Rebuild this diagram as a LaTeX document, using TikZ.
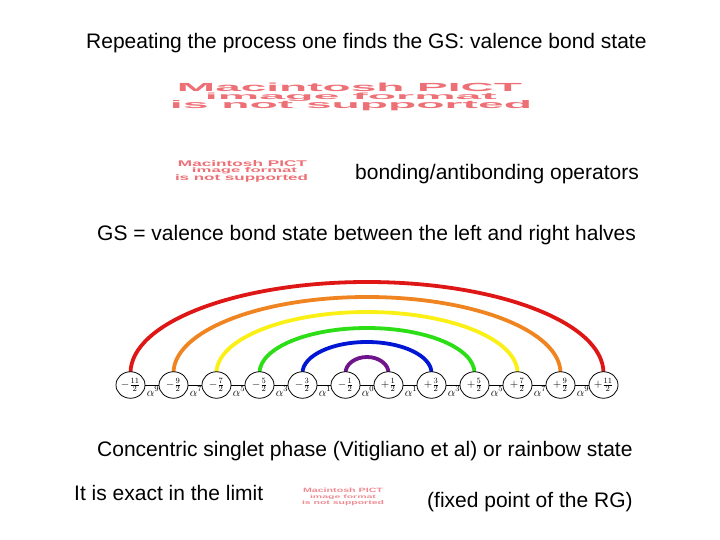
\documentclass[tikz,border=0pt]{standalone}
\usepackage{fontspec}
\setmainfont{Liberation Sans}
\usepackage{graphicx}
\usetikzlibrary{shapes.geometric}
\definecolor{pict}{RGB}{236,112,118}
\definecolor{pictlight}{RGB}{238,140,146}
\definecolor{rbred}{RGB}{222,22,22}
\definecolor{rborange}{RGB}{240,132,32}
\definecolor{rbyellow}{RGB}{250,240,22}
\definecolor{rbgreen}{RGB}{44,222,22}
\definecolor{rbblue}{RGB}{0,22,212}
\definecolor{rbpurple}{RGB}{112,20,140}
\tikzset{
  txt/.style={inner sep=0pt, font=\fontsize{21}{24}\selectfont, anchor=base west},
  pictline/.style={inner sep=0pt, text=pict, font=\bfseries, anchor=base},
  site/.style={ellipse, draw=black, line width=0.8pt, fill=white, minimum width=29pt, minimum height=26.5pt, inner sep=0pt, font=\fontsize{11}{12}\selectfont},
  bond/.style={draw=black, line width=0.8pt},
  coup/.style={inner sep=0pt, font=\fontsize{11.5}{12}\selectfont, anchor=base},
  rainbow/.style={line width=3.8pt}
}
\newcommand{\pictfit}[3]{\resizebox{#1pt}{#2pt}{#3}}
\begin{document}
\begin{tikzpicture}[x=1pt,y=-1pt]
\useasboundingbox (0,0) rectangle (720,540);

% texts
\node[txt] (t1) at (86,49) {Repeating the process one finds the GS: valence bond state};
\node[txt] (t2) at (355,180) {bonding/antibonding operators};
\node[txt] (t3) at (97,240.5) {GS = valence bond state between the left and right halves};
\node[txt] (t4) at (97,456) {Concentric singlet phase (Vitigliano et al) or rainbow state};
\node[txt] (t5) at (74,500) {It is exact in the limit};
\node[txt] (t6) at (427,507) {(fixed point of the RG)};

% PICT placeholders
\node[pictline] (p1a) at (349.5,91.5) {\pictfit{345}{8.5}{Macintosh PICT}};
\node[pictline] (p1b) at (351,99.5) {\pictfit{292}{6.5}{image format}};
\node[pictline] (p1c) at (351,108.5) {\pictfit{362}{8}{is not supported}};

\node[pictline] (p2a) at (242.5,166.5) {\pictfit{129}{6}{Macintosh PICT}};
\node[pictline] (p2b) at (244.5,172.5) {\pictfit{105}{5}{image format}};
\node[pictline] (p2c) at (241.5,181) {\pictfit{133}{6}{is not supported}};

\node[pictline, text=pictlight] (p3a) at (343,492.5) {\pictfit{80}{4.5}{Macintosh PICT}};
\node[pictline, text=pictlight] (p3b) at (343,498) {\pictfit{66}{3.5}{image format}};
\node[pictline, text=pictlight] (p3c) at (343,504) {\pictfit{82}{4}{is not supported}};

% rainbow arcs (drawn first, sites on top)
\draw[rainbow, rbred]    (130.5,373) arc[start angle=180, end angle=360, x radius=236.5, y radius=91];
\draw[rainbow, rborange] (173.5,373) arc[start angle=180, end angle=360, x radius=193.5, y radius=76];
\draw[rainbow, rbyellow] (216.5,373) arc[start angle=180, end angle=360, x radius=150.5, y radius=61];
\draw[rainbow, rbgreen]  (259.5,373) arc[start angle=180, end angle=360, x radius=107.5, y radius=45];
\draw[rainbow, rbblue]   (302.5,373) arc[start angle=180, end angle=360, x radius=64.5, y radius=31];
\draw[rainbow, rbpurple] (345.5,373) arc[start angle=180, end angle=360, x radius=21.5, y radius=16];

% sites
\foreach \i/\lab in {0/{$-\frac{11}{2}$},1/{$-\frac{9}{2}$},2/{$-\frac{7}{2}$},3/{$-\frac{5}{2}$},4/{$-\frac{3}{2}$},5/{$-\frac{1}{2}$},6/{$+\frac{1}{2}$},7/{$+\frac{3}{2}$},8/{$+\frac{5}{2}$},9/{$+\frac{7}{2}$},10/{$+\frac{9}{2}$},11/{$+\frac{11}{2}$}}{
  \node[site] (s\i) at ({130.5+43*\i},385) {\lab};
}
% bonds and couplings
\foreach \i/\e [evaluate=\i as \j using int(\i+1)] in {0/9,1/7,2/5,3/3,4/1,5/0,6/1,7/3,8/5,9/7,10/9}{
  \draw[bond] (s\i) -- (s\j);
  \node[coup] (c\i) at ({153+43*\i},396) {$\alpha^{\e}$};
}
\end{tikzpicture}
\end{document}
